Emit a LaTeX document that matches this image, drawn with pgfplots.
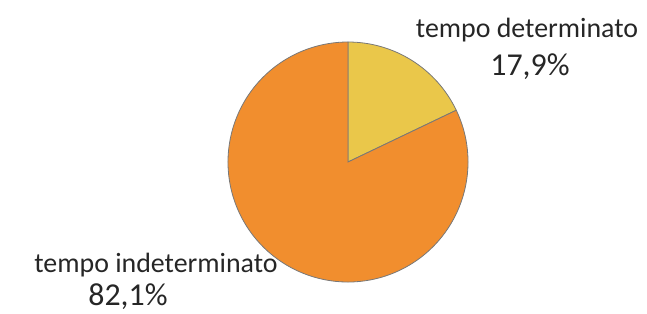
\documentclass[border=0pt]{standalone}
\usepackage{pgfplots}
\usepackage{pgfplotstable}
\pgfplotsset{compat=1.18}
\usetikzlibrary{calc}
\usepackage{fontspec}
\setmainfont{Carlito}
\definecolor{pieorange}{RGB}{241,142,46}
\definecolor{pieyellow}{RGB}{234,199,74}
\definecolor{pieedge}{RGB}{120,120,120}
\definecolor{labeltext}{RGB}{38,38,38}
\pgfplotstableread{
label value
determinato 17.9
indeterminato 82.1
}\piedata
\pgfplotstablegetelem{0}{value}\of\piedata
\pgfmathsetmacro\angA{90-3.6*\pgfplotsretval}
\begin{document}
\begin{tikzpicture}
\begin{axis}[
  x=1bp, y=1bp, xmin=0, xmax=647, ymin=0, ymax=313,
  hide axis, clip=false, scale only axis,
]
\addplot[draw=none] coordinates {(0,0) (647,313)};
\fill[pieyellow, draw=pieedge, line width=0.8bp] (axis cs:348,151) -- (axis cs:348,271) arc[start angle=90, end angle=\angA, radius=120bp] -- cycle;
\fill[pieorange, draw=pieedge, line width=0.8bp] (axis cs:348,151) -- ($(axis cs:348,151)+(\angA:120bp)$) arc[start angle=\angA, end angle=-270, radius=120bp] -- cycle;
\node[font=\fontsize{28}{32}\selectfont, text=labeltext, inner sep=0pt] at (axis cs:527,283) {tempo determinato};
\node[font=\fontsize{32}{36}\selectfont, text=labeltext, inner sep=0pt] at (axis cs:530,246) {17,9\%};
\node[font=\fontsize{28}{32}\selectfont, text=labeltext, inner sep=0pt] at (axis cs:156,48) {tempo indeterminato};
\node[font=\fontsize{32}{36}\selectfont, text=labeltext, inner sep=0pt] at (axis cs:128,16) {82,1\%};
\end{axis}
\end{tikzpicture}
\end{document}
